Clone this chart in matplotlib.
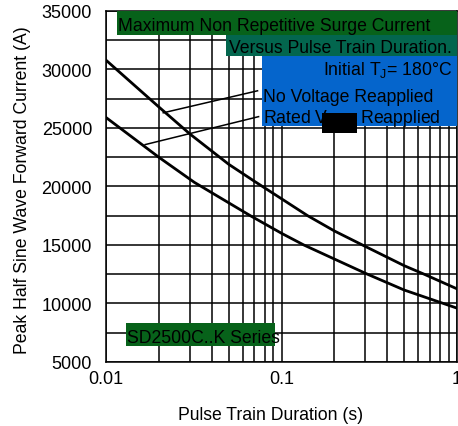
import numpy as np
import matplotlib
matplotlib.use("Agg")
import matplotlib.pyplot as plt
from matplotlib.patches import Rectangle

plt.rcParams['font.family'] = ['Liberation Sans', 'DejaVu Sans']
plt.rcParams['mathtext.fontset'] = 'custom'
plt.rcParams['mathtext.rm'] = 'Liberation Sans'

# pulse train duration (s) and peak current (A) along each curve
t_novolt = [0.01, 0.02, 0.03, 0.05, 0.07, 0.1, 0.141, 0.2, 0.289, 0.5, 0.65, 1.0]
i_novolt = [30800, 26800, 24500, 21900, 20450, 18950, 17500, 16200, 15000, 13230, 12500, 11250]

t_rated = [0.01, 0.02, 0.0319, 0.0665, 0.1, 0.134, 0.2, 0.309, 0.5, 1.0]
i_rated = [25900, 22500, 20350, 17500, 16000, 15000, 13800, 12500, 11150, 9600]

y_ticks = [5000, 10000, 15000, 20000, 25000, 30000, 35000]
x_ticks = [0.01, 0.1, 1]
x_ticklabels = ["0.01", "0.1", "1"]

title_1 = "Maximum Non Repetitive Surge Current"
title_2 = "Versus Pulse Train Duration."
cond = "Initial T$_\\mathregular{J}$= 180°C"
lab_novolt = "No Voltage Reapplied"
lab_rated = "Rated V$_\\mathregular{RRM}$ Reapplied"
series = "SD2500C..K Series"

fig = plt.figure(figsize=(4.58, 4.27), dpi=100)
ax = fig.add_axes([0.2314, 0.1499, 0.7666, 0.822])
ax.set_xscale("log")
ax.set_xlim(0.01, 1)
ax.set_ylim(5000, 35000)

# grid: 1..9 steps in each decade on x, every 2500 A on y
for v in np.concatenate([np.arange(1, 10) * 0.01, np.arange(1, 11) * 0.1]):
    ax.axvline(v, color="black", lw=1.1, zorder=1)
for v in np.arange(5000, 35001, 2500):
    ax.axhline(v, color="black", lw=1.1, zorder=1)

ax.plot(t_novolt, i_novolt, color="black", lw=2.0, zorder=3)
ax.plot(t_rated, i_rated, color="black", lw=2.0, zorder=3)

ax.set_xticks(x_ticks)
ax.set_xticklabels(x_ticklabels)
ax.xaxis.set_minor_locator(matplotlib.ticker.NullLocator())
ax.set_yticks(y_ticks)
ax.tick_params(length=0, labelsize=13)
ax.tick_params(axis="y", pad=10)
ax.tick_params(axis="x", pad=6)
for s in ax.spines.values():
    s.set_linewidth(1.1)

ax.set_xlabel("Pulse Train Duration (s)", fontsize=12.7)
ax.xaxis.set_label_coords(0.47, -0.125)
ax.set_ylabel("Peak Half Sine Wave Forward Current (A)", fontsize=12.7, va="center")
ax.yaxis.set_label_coords(-0.239, 0.493)

tr = ax.transAxes
def box(x0, y0, x1, y1, color):
    ax.add_patch(Rectangle((x0, y0), x1 - x0, y1 - y0, transform=tr,
                           facecolor=color, edgecolor="none", zorder=4))

# label boxes (axes fraction)
box(0.031, 0.932, 1.0, 1.0, "#07621a")
box(0.342, 0.871, 1.0, 0.932, "#03664e")
box(0.444, 0.672, 1.0, 0.871, "#0565cc")
box(0.056, 0.045, 0.482, 0.11, "#07621a")

kw = dict(transform=tr, fontsize=12.7, va="baseline", zorder=5)
ax.text(0.034, 0.946, title_1, ha="left", **kw)
ax.text(0.985, 0.883, title_2, ha="right", **kw)
ax.text(0.985, 0.8205, cond, ha="right", **kw)
ax.text(0.448, 0.745, lab_novolt, ha="left", **kw)
ax.text(0.448, 0.683, lab_rated, ha="left", **kw)
ax.add_patch(Rectangle((0.615, 0.653), 0.1, 0.057, transform=tr,
                       facecolor="black", edgecolor="none", zorder=6))
ax.text(0.06, 0.057, series, ha="left", **kw)

# leader lines from labels to curves
ax.plot([0.073, 0.0212], [28180, 26300], color="black", lw=1.1, zorder=3)
ax.plot([0.074, 0.0167], [25970, 23580], color="black", lw=1.1, zorder=3)

fig.savefig("out.png", dpi=100)
